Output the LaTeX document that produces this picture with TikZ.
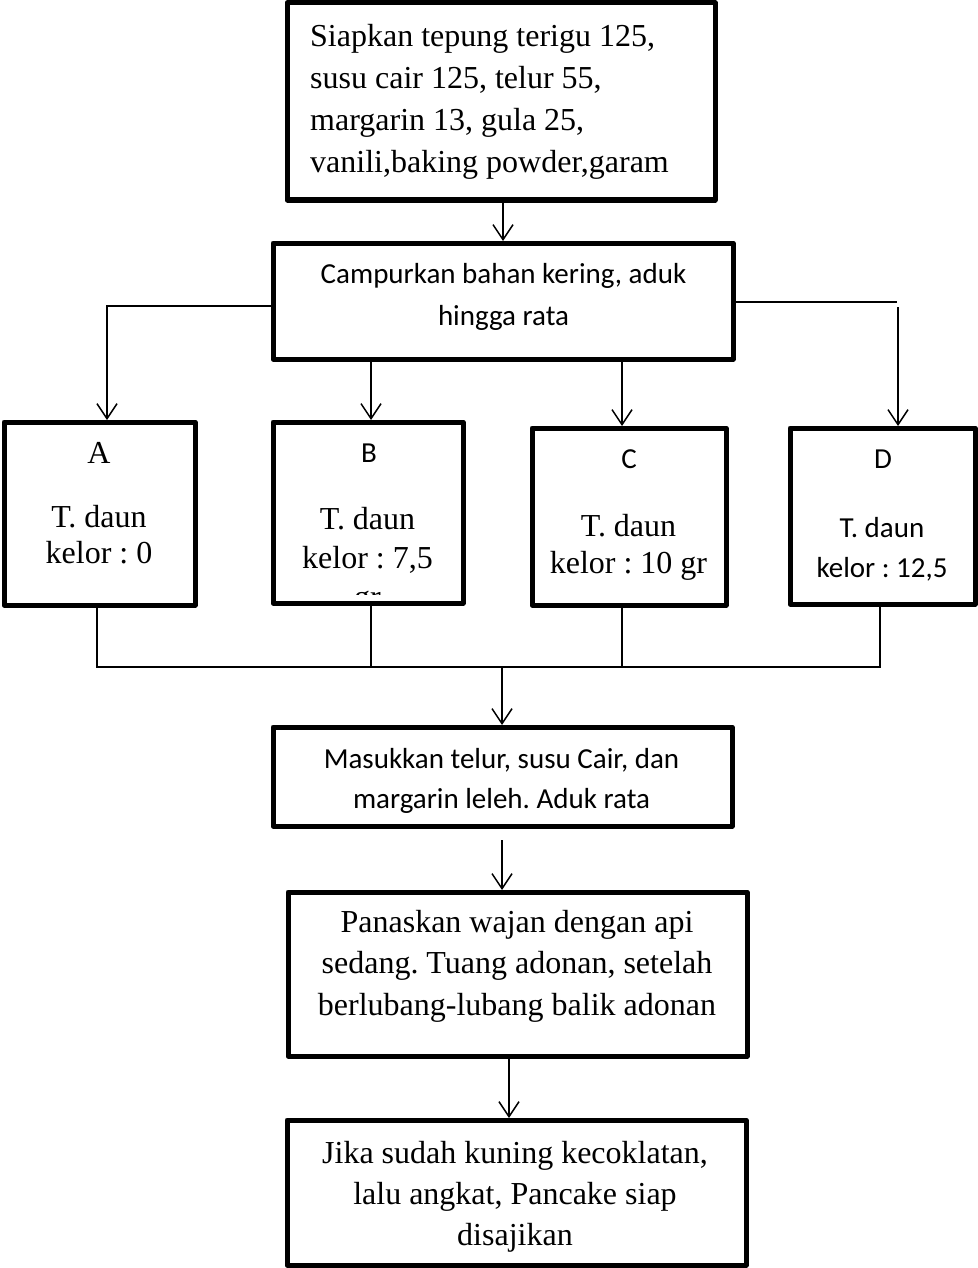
\documentclass[tikz,border=0pt]{standalone}
\usepackage{fontspec}
\setmainfont{Liberation Serif}
\newfontfamily\sansfam{Carlito}
\usetikzlibrary{arrows.meta}
\frenchspacing
\begin{document}
\frenchspacing
\begin{tikzpicture}[x=1pt,y=-1pt,
  box/.style={draw,line width=5pt,line join=round,inner sep=0pt,outer sep=0pt},
  conn/.style={line width=1.5pt},
  arr/.style={conn,-{Straight Barb[length=15pt,width=20pt,line width=1.5pt]},shorten >=2pt},
  serif/.style={font=\frenchspacing\fontsize{32}{#1}\selectfont,inner sep=0pt,align=center},
  serif/.default=41.5,
  sans/.style={font=\frenchspacing\sansfam\fontsize{29}{#1}\selectfont,inner sep=0pt,align=center},
  sans/.default=41,
]
\useasboundingbox (0,0) rectangle (977,1268);

% boxes
\node[box,minimum width=428pt,minimum height=197pt] (b1) at (501,101.5) {};
\node[box,minimum width=460pt,minimum height=116pt] (b2) at (503,301) {};
\node[box,minimum width=191pt,minimum height=183pt] (bA) at (99.5,513.5) {};
\node[box,minimum width=190pt,minimum height=181pt] (bB) at (368,512.5) {};
\node[box,minimum width=194pt,minimum height=177pt] (bC) at (629,516.5) {};
\node[box,minimum width=185pt,minimum height=176pt] (bD) at (882.5,516) {};
\node[box,minimum width=459pt,minimum height=99pt] (bM) at (502.5,776.5) {};
\node[box,minimum width=459pt,minimum height=164pt] (bP) at (517.5,974) {};
\node[box,minimum width=459pt,minimum height=145pt] (bJ) at (516.5,1192.5) {};

% texts (anchor=base is the baseline of the last line)
\node[serif=42,anchor=base west,align=left] (t1) at (310,173) {Siapkan tepung terigu 125,\\susu cair 125, telur 55,\\margarin 13, gula 25,\\vanili,baking powder,garam};
\node[sans=42,anchor=base] (t2) at (503.5,325) {Campurkan bahan kering, aduk\\hingga rata};

\node[serif,anchor=base] (tAh) at (99,463) {A};
\node[serif=36,anchor=base] (tA) at (99,563) {T. daun\\kelor : 0};

\node[sans,anchor=base] (tBh) at (369,462) {B};
\node[serif=39,anchor=base] (tB) at (367.5,568) {T. daun\\kelor : 7,5};
\begin{scope}
  \clip (273,422) rectangle (463,594);
  \node[serif,anchor=base] (tBg) at (367.5,607) {gr};
\end{scope}

\node[sans,anchor=base] (tCh) at (629,468) {C};
\node[serif=37,anchor=base] (tC) at (628.5,573) {T. daun\\kelor : 10 gr};

\node[sans,anchor=base] (tDh) at (883,468) {D};
\node[sans=40,anchor=base] (tD) at (882,577) {T. daun\\kelor : 12,5};

\node[sans=40,anchor=base] (tM) at (501.5,808) {Masukkan telur, susu Cair, dan\\margarin leleh. Aduk rata};
\node[serif,anchor=base] (tP) at (517,1015) {Panaskan wajan dengan api\\sedang. Tuang adonan, setelah\\berlubang-lubang balik adonan};
\node[serif=41,anchor=base] (tJ) at (515,1245) {Jika sudah kuning kecoklatan,\\lalu angkat, Pancake siap\\disajikan};

% connectors
\coordinate (x12) at (503,0);
\draw[arr] (b1.south -| x12) -- (b2.north -| x12);

\coordinate (la) at (107,306);
\draw[arr] (b2.west |- la) -- (la) -- (la |- bA.north);

\coordinate (ra) at (897,302);
\coordinate (ra2) at (898,307);
\draw[conn] (b2.east |- ra) -- (ra);
\draw[arr] (ra2) -- (ra2 |- bD.north);

\coordinate (xb) at (371,0);
\draw[arr] (b2.south -| xb) -- (bB.north -| xb);
\coordinate (xc) at (622,0);
\draw[arr] (b2.south -| xc) -- (bC.north -| xc);

\coordinate (ma) at (97,667);
\coordinate (mb) at (371,667);
\coordinate (mc) at (622,667);
\coordinate (md) at (880,667);
\draw[conn] (bA.south -| ma) -- (ma) -- (md) -- (bD.south -| md);
\draw[conn] (bB.south -| mb) -- (mb);
\draw[conn] (bC.south -| mc) -- (mc);
\coordinate (mm) at (502,667);
\draw[arr] (mm) -- (bM.north -| mm);

\coordinate (mp) at (502,840);
\draw[arr] (mp) -- (bP.north -| mp);

\coordinate (pj) at (509,0);
\draw[arr] (bP.south -| pj) -- (bJ.north -| pj);
\end{tikzpicture}
\end{document}
